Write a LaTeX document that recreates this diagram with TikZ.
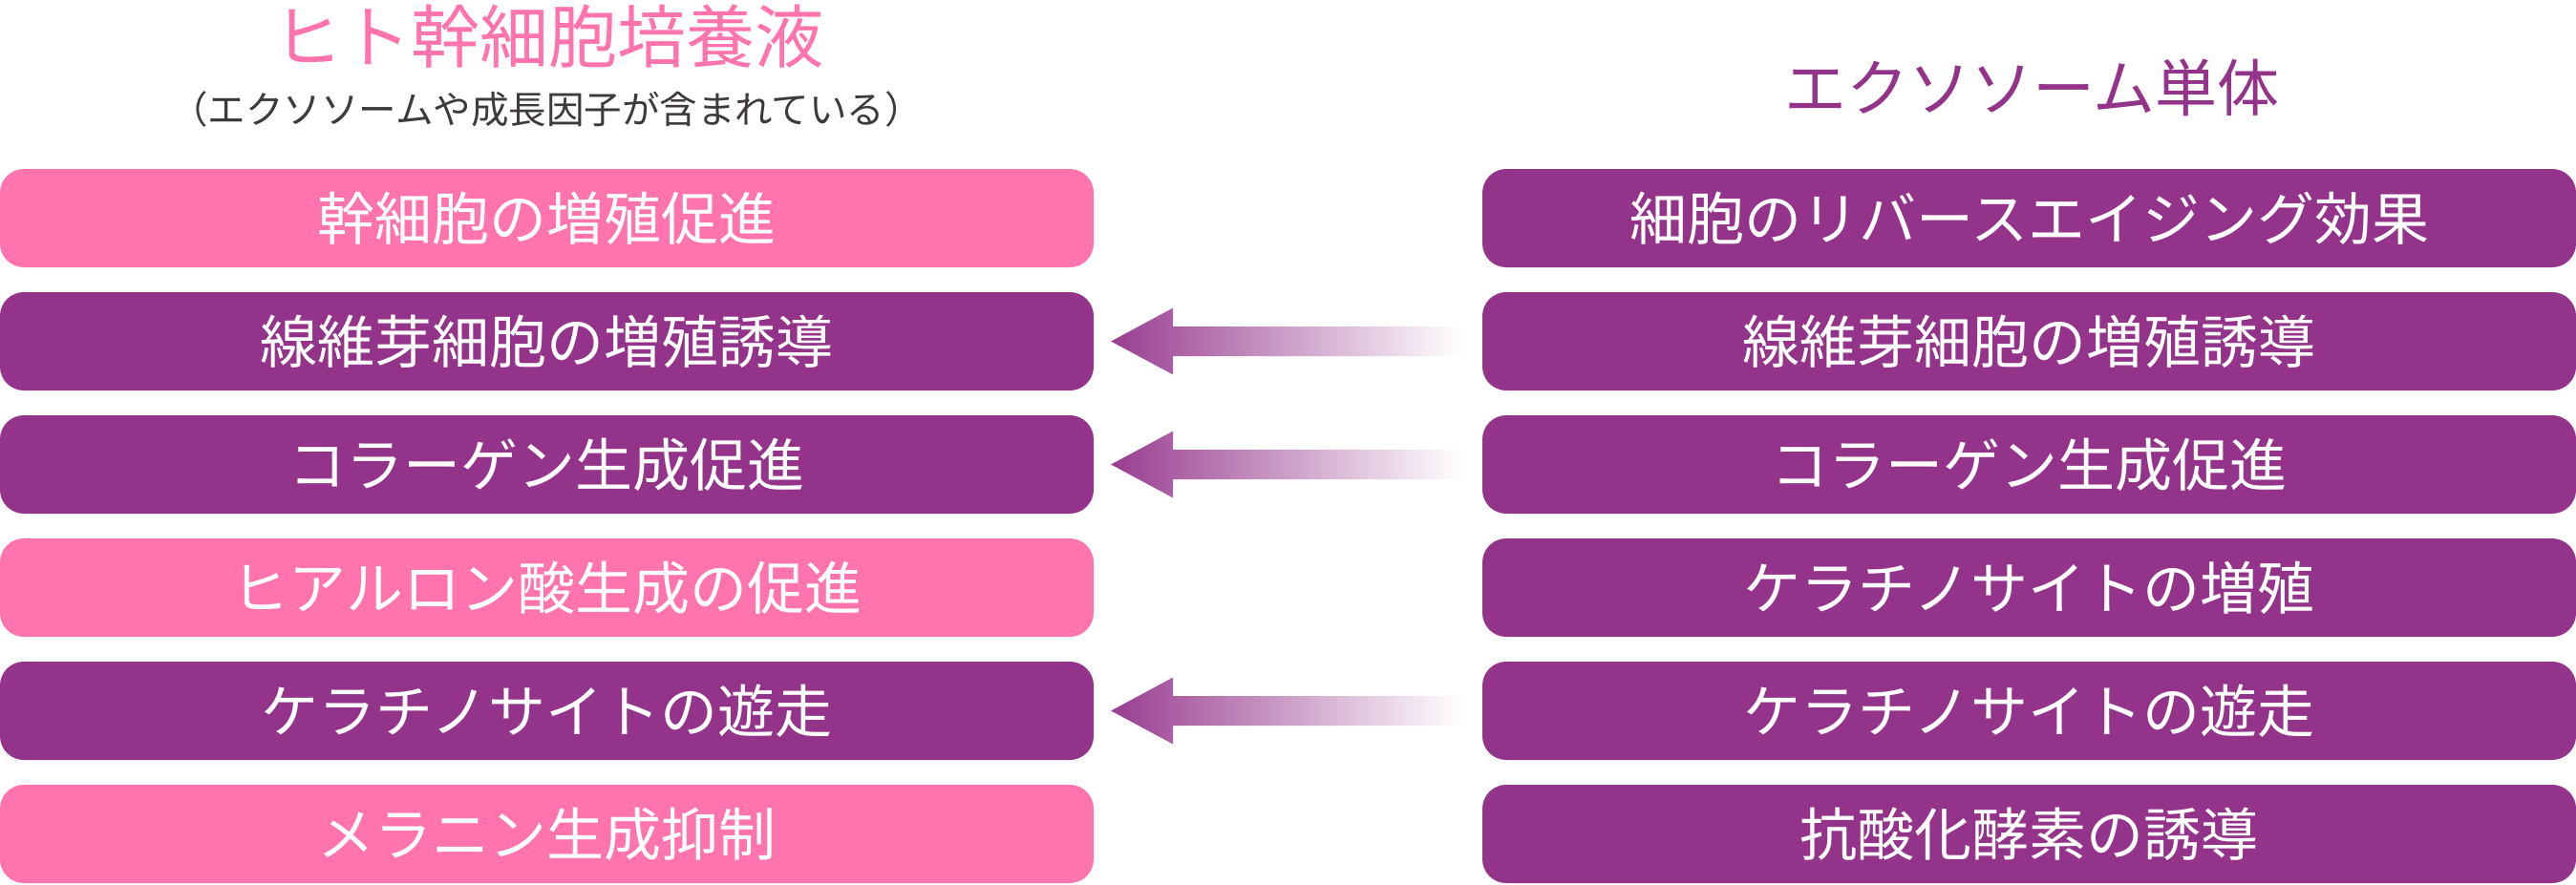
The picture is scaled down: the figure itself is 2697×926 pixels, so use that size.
\documentclass[tikz,border=0pt]{standalone}
\usepackage{fontspec}
\setmainfont{Noto Sans CJK JP}
\usetikzlibrary{calc}
\definecolor{pinkc}{RGB}{255,116,172}
\definecolor{purc}{RGB}{147,51,138}
\definecolor{greyc}{RGB}{62,58,57}
\begin{document}
\begin{tikzpicture}[x=1pt,y=-1pt,
  cell/.style={rounded corners=25pt, minimum width=1145pt, minimum height=103pt, inner sep=0pt, text=white, font=\fontsize{60}{72}\selectfont},
  pinkcell/.style={cell, fill=pinkc},
  purcell/.style={cell, fill=purc},
  ttl/.style={inner sep=0pt, font=\fontsize{#1}{#1}\selectfont}]
\useasboundingbox (0,0) rectangle (2697,926);
% titles
\node[ttl=72, text=pinkc] (tl) at (574,38) {ヒト幹細胞培養液};
\node[ttl=39.5, text=greyc] (sub) at (572,114) {（エクソソームや成長因子が含まれている）};
\node[ttl=65, text=purc] (tr) at (2127,92) {エクソソーム単体};
% left column
\node[pinkcell] (l1) at (572.5,228.5) {幹細胞の増殖促進};
\node[purcell]  (l2) at (572.5,357.5) {線維芽細胞の増殖誘導};
\node[purcell]  (l3) at (572.5,486.5) {コラーゲン生成促進};
\node[pinkcell] (l4) at (572.5,615.5) {ヒアルロン酸生成の促進};
\node[purcell]  (l5) at (572.5,744.5) {ケラチノサイトの遊走};
\node[pinkcell] (l6) at (572.5,873.5) {メラニン生成抑制};
% right column
\node[purcell] (r1) at (2124.5,228.5) {細胞のリバースエイジング効果};
\node[purcell] (r2) at (2124.5,357.5) {線維芽細胞の増殖誘導};
\node[purcell] (r3) at (2124.5,486.5) {コラーゲン生成促進};
\node[purcell] (r4) at (2124.5,615.5) {ケラチノサイトの増殖};
\node[purcell] (r5) at (2124.5,744.5) {ケラチノサイトの遊走};
\node[purcell] (r6) at (2124.5,873.5) {抗酸化酵素の誘導};
% gradient arrows
\foreach \a/\b in {l2/r2, l3/r3, l5/r5}{
  \coordinate (tip) at ($(\a.east)+(18,0)$);
  \coordinate (end) at ($(\b.west)+(-21,0)$);
  \shade[left color=purc!95!white, right color=white]
    (tip) -- ++(65,-35) -- ++(0,19.5) -- ($(end)+(0,-15.5)$) -- ($(end)+(0,15.5)$)
    -- ($(tip)+(65,15.5)$) -- ($(tip)+(65,35)$) -- cycle;
}
\end{tikzpicture}
\end{document}
